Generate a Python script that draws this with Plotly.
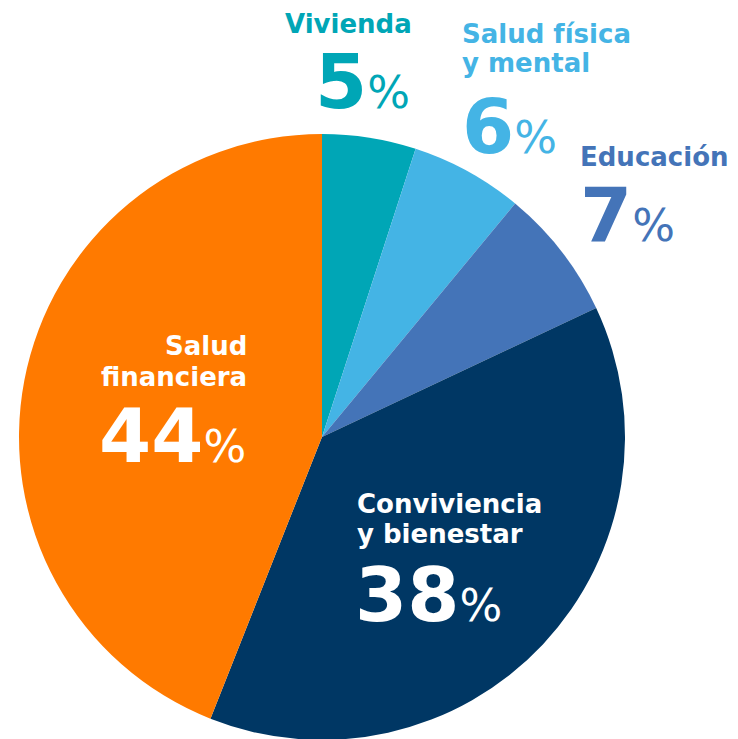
import plotly.graph_objects as go

categories = ["Vivienda", "Salud física y mental", "Educación", "Convivencia y bienestar", "Salud financiera"]
values = [5, 6, 7, 38, 44]
colors = ["#00A6B6", "#44B4E5", "#4474B8", "#003764", "#FF7A00"]
label_lines = [["Vivienda"], ["Salud física", "y mental"], ["Educación"], ["Conviviencia", "y bienestar"], ["Salud", "financiera"]]

W, H = 738, 739
OFF = 8  # page body margin
FONT = "'DejaVu Sans', sans-serif"

def px(x):
    return (x - OFF) / W

def py(y):
    return 1 - (y - OFF) / H

fig = go.Figure(go.Pie(
    labels=categories, values=values, sort=False, direction="clockwise", rotation=0,
    marker=dict(colors=colors, line=dict(width=0)), textinfo="none", hoverinfo="label+percent",
    domain=dict(x=[px(19), px(625)], y=[py(740), py(134)]), showlegend=False,
))

# (anchor x, anchor, colour, [line centre y...], number anchor x, number centre y)
place = [
    (348, "center", colors[0], [24], 362, 82),
    (460, "left", colors[1], [34, 63], 460, 127),
    (578, "left", colors[2], [157], 578, 215),
    (355, "left", "#FFFFFF", [504, 534], 353, 595),
    (249, "right", "#FFFFFF", [346, 377], 248, 436),
]

annotations = []
for i, (lx, anc, col, ys, nx, ny) in enumerate(place):
    for line, ly in zip(label_lines[i], ys):
        annotations.append(dict(
            x=px(lx), y=py(ly), xref="paper", yref="paper", xanchor=anc, yanchor="middle",
            text=line, showarrow=False, align=anc,
            font=dict(family=FONT, size=26, color=col, weight=700),
        ))
    num = f"{values[i]}<span style='font-size:45px;font-weight:400'>%</span>"
    annotations.append(dict(
        x=px(nx), y=py(ny), xref="paper", yref="paper", xanchor=anc, yanchor="middle",
        text=num, showarrow=False, align=anc,
        font=dict(family=FONT, size=75, color=col, weight=700),
    ))

fig.update_layout(
    width=W, height=H, margin=dict(l=0, r=0, t=0, b=0),
    paper_bgcolor="white", plot_bgcolor="white",
    annotations=annotations,
)

fig.write_html("out.html")
